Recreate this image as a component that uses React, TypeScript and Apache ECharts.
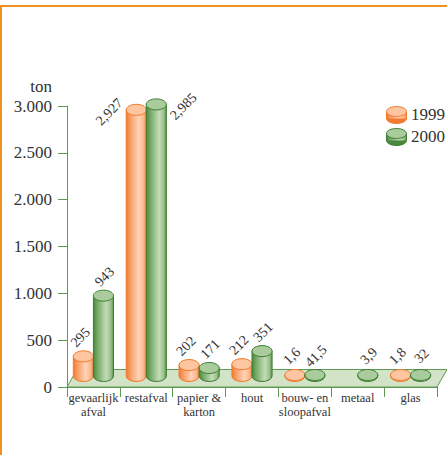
import React, { useEffect, useRef } from "react";
import * as echarts from "echarts";

// Afvalstromen in ton, 1999 en 2000
const categories = [
  "gevaarlijk\nafval",
  "restafval",
  "papier &\nkarton",
  "hout",
  "bouw- en\nsloopafval",
  "metaal",
  "glas",
];
const years = ["1999", "2000"];
const values1999: (number | null)[] = [295, 2927, 202, 212, 1.6, null, 1.8];
const values2000: (number | null)[] = [943, 2985, 171, 351, 41.5, 3.9, 32];
const yMax = 3000;
const yStep = 500;

const FONT = "'Liberation Serif', 'DejaVu Serif', serif";
const TEXT = "#333333";
const AXIS_GREEN = "#5d9a52";

type Palette = { edge: string; top: string; body: [number, string][] };

const ORANGE: Palette = {
  edge: "#f07a2c",
  top: "#fdc5a0",
  body: [
    [0, "#f27a30"],
    [0.2, "#f89c64"],
    [0.62, "#fed4b8"],
    [0.86, "#fcb68c"],
    [1, "#f58b48"],
  ],
};
const GREEN: Palette = {
  edge: "#3e7d33",
  top: "#aacb9c",
  body: [
    [0, "#4a883d"],
    [0.2, "#74a866"],
    [0.64, "#c4dcb8"],
    [0.86, "#9dc28e"],
    [1, "#5a954d"],
  ],
};

const gradient = (p: Palette) =>
  new echarts.graphic.LinearGradient(
    0,
    0,
    1,
    0,
    p.body.map(([offset, color]) => ({ offset, color }))
  );

// thousands with a dot on the value axis
const fmtAxis = (v: number) =>
  String(v).replace(/\B(?=(\d{3})+(?!\d))/g, ".");

// value labels as printed on the columns
const fmtLabel = (v: number) =>
  Number.isInteger(v)
    ? String(v).replace(/\B(?=(\d{3})+(?!\d))/g, ",")
    : String(v).replace(".", ",");

// one cylinder per category; side -1 = left of the category centre, +1 = right
function cylinderRenderer(side: number, pal: Palette) {
  return (params: any, api: any) => {
    const idx = api.value(0);
    const v = api.value(1);
    if (v == null || isNaN(v)) return null;
    const band = api.size([1, 0])[0];
    const [catX, valY] = api.coord([idx, v]);
    const [, zeroY] = api.coord([idx, 0]);
    const r = band * 0.19;
    const ry = r * 0.55;
    const cx = catX + side * r;
    const baseY = zeroY - 11;
    const topY = Math.min(valY - 3, baseY - 1);
    const body =
      `M${cx - r},${topY} L${cx - r},${baseY} ` +
      `A${r},${ry} 0 0 0 ${cx + r},${baseY} L${cx + r},${topY} Z`;

    const beside = v > 0.9 * yMax;
    const lx = beside ? cx + side * 27 : cx - 1 + side * 2;
    const ly = beside ? topY + 2 : topY - 19;

    return {
      type: "group",
      children: [
        {
          type: "path",
          shape: { pathData: body },
          style: { fill: gradient(pal), stroke: pal.edge, lineWidth: 1 },
        },
        {
          type: "ellipse",
          shape: { cx, cy: topY, rx: r, ry },
          style: { fill: pal.top, stroke: pal.edge, lineWidth: 1 },
        },
        {
          type: "text",
          x: lx,
          y: ly,
          rotation: Math.PI / 4,
          style: {
            text: fmtLabel(v),
            font: `14px ${FONT}`,
            fill: TEXT,
            align: "center",
            verticalAlign: "middle",
          },
        },
      ],
    };
  };
}

// light green floor the columns stand on
function floorRenderer(params: any, api: any) {
  const band = api.size([1, 0])[0];
  const [x0, y0] = api.coord([0, 0]);
  const [x1] = api.coord([categories.length - 1, 0]);
  const left = x0 - band / 2;
  const right = x1 + band / 2;
  const dx = 10;
  const dy = 17.5;
  return {
    type: "polygon",
    shape: {
      points: [
        [left, y0],
        [right, y0],
        [right + dx, y0 - dy],
        [left + dx, y0 - dy],
      ],
    },
    style: { fill: "#d3e3c8", stroke: AXIS_GREEN, lineWidth: 1 },
  };
}

function legendIcon(x: number, y: number, pal: Palette) {
  const r = 10;
  const ry = 5;
  const h = 7;
  return [
    {
      type: "ellipse",
      shape: { cx: x, cy: y + h, rx: r, ry },
      style: { fill: pal.body[0][1], stroke: pal.edge, lineWidth: 1 },
    },
    {
      type: "rect",
      shape: { x: x - r, y, width: 2 * r, height: h },
      style: { fill: gradient(pal) },
    },
    {
      type: "line",
      shape: { x1: x - r, y1: y, x2: x - r, y2: y + h },
      style: { stroke: pal.edge, lineWidth: 1 },
    },
    {
      type: "line",
      shape: { x1: x + r, y1: y, x2: x + r, y2: y + h },
      style: { stroke: pal.edge, lineWidth: 1 },
    },
    {
      type: "ellipse",
      shape: { cx: x, cy: y, rx: r, ry },
      style: { fill: pal.top, stroke: pal.edge, lineWidth: 1 },
    },
  ];
}

export default function App() {
  const ref = useRef<HTMLDivElement>(null);

  useEffect(() => {
    if (!ref.current) return;
    const chart = echarts.init(ref.current, undefined, { renderer: "svg" });
    const palettes = [ORANGE, GREEN];
    const seriesValues = [values1999, values2000];

    chart.setOption({
      animation: false,
      backgroundColor: "#ffffff",
      grid: { left: 67, right: 10, top: 106, bottom: 68, containLabel: false },
      xAxis: {
        type: "category",
        data: categories,
        boundaryGap: true,
        axisLine: { show: true, lineStyle: { color: AXIS_GREEN, width: 1 } },
        axisTick: {
          show: true,
          interval: 0,
          length: 10,
          lineStyle: { color: AXIS_GREEN, width: 1 },
        },
        axisLabel: {
          interval: 0,
          margin: 4,
          fontFamily: FONT,
          fontSize: 12.5,
          lineHeight: 14,
          color: TEXT,
        },
        splitLine: { show: false },
      },
      yAxis: {
        type: "value",
        min: 0,
        max: yMax,
        interval: yStep,
        name: "ton",
        nameLocation: "end",
        nameGap: 11,
        nameTextStyle: {
          fontFamily: FONT,
          fontSize: 17,
          color: TEXT,
          align: "right",
          padding: [0, 15, 0, 0],
        },
        axisLine: { show: true, lineStyle: { color: AXIS_GREEN, width: 1 } },
        axisTick: {
          show: true,
          length: 9,
          lineStyle: { color: AXIS_GREEN, width: 1 },
        },
        axisLabel: {
          margin: 15,
          fontFamily: FONT,
          fontSize: 17,
          color: TEXT,
          formatter: (v: number) => fmtAxis(v),
        },
        splitLine: { show: false },
      },
      series: [
        {
          type: "custom",
          name: "floor",
          z: 1,
          silent: true,
          renderItem: floorRenderer,
          encode: { x: 0, y: 1 },
          data: [[0, 0]],
        },
        ...years.map((year, s) => ({
          type: "custom",
          name: year,
          z: 2,
          renderItem: cylinderRenderer(s === 0 ? -1 : 1, palettes[s]),
          encode: { x: 0, y: 1 },
          data: seriesValues[s].map((v, i) => [i, v]),
        })),
      ],
      graphic: [
        {
          type: "rect",
          silent: true,
          shape: { x: 1, y: 6, width: 700, height: 700 },
          style: { fill: "none", stroke: "#ef9222", lineWidth: 2 },
        },
        ...years.map((year, s) => ({
          type: "group",
          silent: true,
          children: [
            ...legendIcon(396.5, 111.5 + s * 22, palettes[s]),
            {
              type: "text",
              x: 411,
              y: 114 + s * 22,
              style: {
                text: year,
                font: `17px ${FONT}`,
                fill: TEXT,
                verticalAlign: "middle",
              },
            },
          ],
        })),
      ],
    });

    return () => chart.dispose();
  }, []);

  return (
    <div
      ref={ref}
      style={{
        position: "absolute",
        left: 0,
        top: 0,
        width: 447,
        height: 455,
        background: "#fff",
      }}
    />
  );
}
